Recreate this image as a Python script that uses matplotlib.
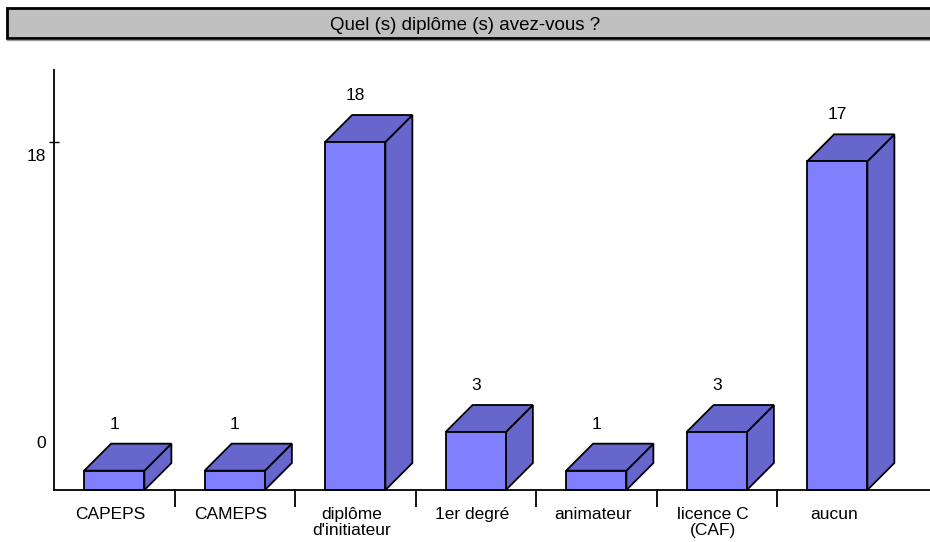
"""Bar chart with pseudo-3D boxes: Quel (s) diplôme (s) avez-vous ?"""

import numpy as np
import matplotlib
matplotlib.use("Agg")
import matplotlib.pyplot as plt
from matplotlib.patches import Polygon, Rectangle
from matplotlib.transforms import ScaledTranslation

TITLE = "Quel (s) diplôme (s) avez-vous ?"
CATEGORIES = ["CAPEPS", "CAMEPS", "diplôme\nd'initiateur", "1er degré",
              "animateur", "licence C\n(CAF)", "aucun"]
VALUES = [1, 1, 18, 3, 1, 3, 17]
Y_TICKS = [18]

FRONT = "#8080FF"
SHADE = "#6666CC"
DEPTH_PX = 27
BAR_WIDTH = 0.5
FS = 12.5

plt.rcParams["font.family"] = ["Liberation Sans", "DejaVu Sans"]
plt.rcParams["font.size"] = FS

W, H = 930, 542
fig = plt.figure(figsize=(W / 100, H / 100), dpi=100)

# title banner
fig.patches.append(Rectangle((7 / W, 1 - 38 / H), 1, 30 / H, transform=fig.transFigure,
                             facecolor="#C0C0C0", edgecolor="black", linewidth=2))
fig.lines.append(plt.Line2D([7 / W, 1], [1 - 40 / H, 1 - 40 / H], transform=fig.transFigure,
                            color="#9a9a9a", linewidth=1))
fig.text(0.5, 1 - 25 / H, TITLE, ha="center", va="center", fontsize=13.5)

ax_left, ax_bottom, ax_top = 54, 490, 70
ax = fig.add_axes([ax_left / W, (H - ax_bottom) / H, (W - ax_left) / W, (ax_bottom - ax_top) / H])

slot_px = 120.5
x_max = -0.5 + (W - ax_left) / slot_px
unit_px = 348 / 18
y_max = (ax_bottom - ax_top) / unit_px
ax.set_xlim(-0.5, x_max)
ax.set_ylim(0, y_max)

dx = DEPTH_PX / slot_px
dy = DEPTH_PX / unit_px

x = np.arange(len(VALUES))
for xi, v in zip(x, VALUES):
    x0, x1 = xi - BAR_WIDTH / 2, xi + BAR_WIDTH / 2
    kw = dict(edgecolor="black", linewidth=1.3, joinstyle="miter", clip_on=False)
    ax.add_patch(Polygon([(x1, 0), (x1 + dx, dy), (x1 + dx, v + dy), (x1, v)], facecolor=SHADE, **kw))
    ax.add_patch(Polygon([(x0, v), (x1, v), (x1 + dx, v + dy), (x0 + dx, v + dy)], facecolor=SHADE, **kw))
    ax.add_patch(Rectangle((x0, 0), BAR_WIDTH, v, facecolor=FRONT, **kw))
    ax.annotate(str(v), (xi, v + dy), xytext=(0, 14), textcoords="offset points",
                ha="center", va="center", fontsize=FS)

for side in ("top", "right"):
    ax.spines[side].set_visible(False)
for side in ("left", "bottom"):
    ax.spines[side].set_linewidth(1.3)

# x axis: tick marks between categories, labels under each slot
ax.set_xticks(x[:-1] + 0.5)
ax.set_xticklabels([])
ax.tick_params(axis="x", which="major", direction="out", length=12, width=1.3)
ax.set_xticks(x - 0.03, minor=True)
ax.set_xticklabels(CATEGORIES, minor=True, linespacing=1.12)
ax.tick_params(axis="x", which="minor", length=0, pad=12, labelsize=FS)

# y axis
ax.set_yticks(Y_TICKS)
ax.set_yticklabels([str(t) for t in Y_TICKS])
ax.tick_params(axis="y", direction="inout", length=7, width=1, pad=2, labelsize=FS)
for lab in ax.get_yticklabels():
    lab.set_transform(lab.get_transform() + ScaledTranslation(0, -13 / 100, fig.dpi_scale_trans))
ax.text(-8 / (W - ax_left), (ax_bottom - 443) / (ax_bottom - ax_top), "0",
        transform=ax.transAxes, ha="right", va="center", fontsize=FS)

fig.savefig("out.png", dpi=100)
